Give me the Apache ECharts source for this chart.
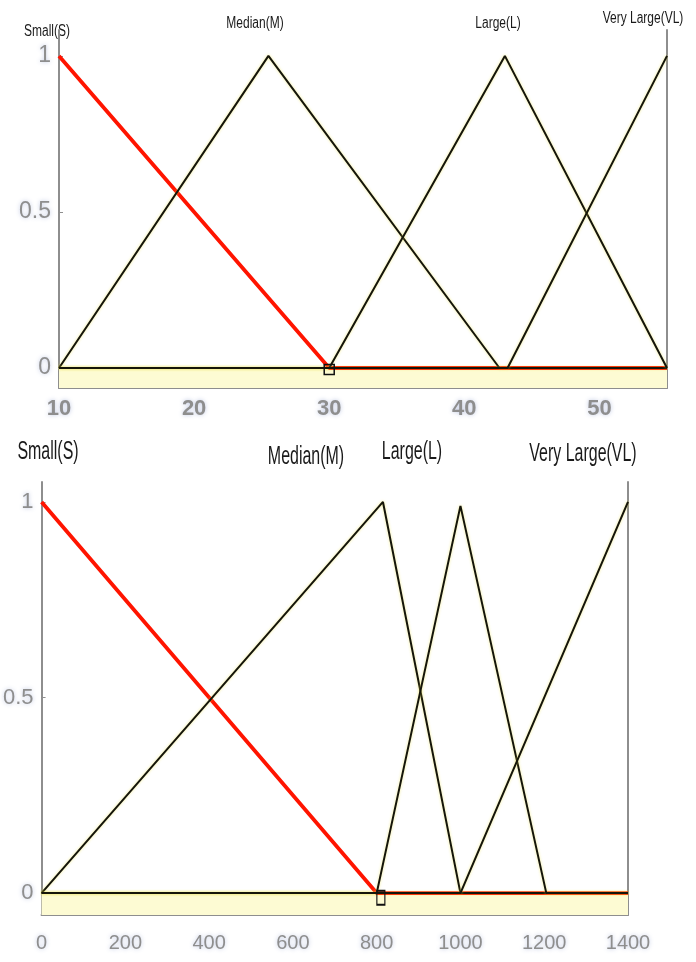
<!DOCTYPE html>
<html>
<head>
<meta charset="utf-8">
<script src="https://cdn.jsdelivr.net/npm/echarts@6/dist/echarts.min.js"></script>
<style>
  html, body { margin: 0; padding: 0; background: #fff; }
  #chart { width: 696px; height: 962px; }
</style>
</head>
<body>
<div id="chart"></div>
<script>
// upper panel, universe 10..55
const upperTicks = [10, 20, 30, 40, 50];
const upperSmallX = [10, 30, 55];
const upperSmallY = [1, 0, 0];
const upperMedianX = [10, 25.5, 42.6, 55];
const upperMedianY = [0, 1, 0, 0];
const upperLargeX = [10, 30, 43, 55];
const upperLargeY = [0, 0, 1, 0];
const upperVeryLargeX = [10, 43.2, 55];
const upperVeryLargeY = [0, 0, 1];

// lower panel, universe 0..1400
const lowerTicks = [0, 200, 400, 600, 800, 1000, 1200, 1400];
const lowerSmallX = [0, 800, 1400];
const lowerSmallY = [1, 0, 0];
const lowerMedianX = [0, 815, 1000, 1400];
const lowerMedianY = [0, 1, 0, 0];
const lowerLargeX = [0, 800, 1000, 1205, 1400];
const lowerLargeY = [0, 0, 0.99, 0, 0];
const lowerVeryLargeX = [0, 1000, 1400];
const lowerVeryLargeY = [0, 0, 1];

const membershipTicks = [0, 0.5, 1];
const mfNames = ["Small(S)", "Median(M)", "Large(L)", "Very Large(VL)"];

function pairs(xs, ys) {
  return xs.map((x, i) => [x, ys[i]]);
}

const chart = echarts.init(document.getElementById("chart"));

const grey = "#8e8e8e";
const sans = '"Liberation Sans", sans-serif';
const blackLine = {
  color: "#15150a",
  width: 2,
  shadowColor: "rgba(235,225,70,0.6)",
  shadowBlur: 3,
};
const redLine = { color: "#ff1400", width: 3.8 };
const markerStyle = {
  color: "rgba(255,255,255,0)",
  borderColor: "#111",
  borderWidth: 1.5,
};
const labelGlow = {
  textShadowColor: "rgba(110,130,190,0.45)",
  textShadowBlur: 4,
};

function yAxisFor(gridIndex, min, max, labelSize) {
  return [
    {
      type: "value",
      gridIndex: gridIndex,
      min: min,
      max: max,
      splitLine: { show: false },
      axisLine: { show: true, lineStyle: { color: grey, width: 2 } },
      axisTick: {
        show: true,
        inside: true,
        length: 4,
        customValues: membershipTicks,
        lineStyle: { color: grey },
      },
      axisLabel: Object.assign({
        customValues: membershipTicks,
        margin: 8,
        color: grey,
        fontFamily: sans,
        fontSize: labelSize,
      }, labelGlow),
    },
    {
      type: "value",
      gridIndex: gridIndex,
      position: "right",
      min: min,
      max: max,
      splitLine: { show: false },
      axisLine: { show: true, lineStyle: { color: grey, width: 2 } },
      axisTick: { show: false },
      axisLabel: { show: false },
    },
  ];
}

function xAxisFor(gridIndex, min, max, ticks, labelSize, margin, weight) {
  return {
    type: "value",
    gridIndex: gridIndex,
    min: min,
    max: max,
    splitLine: { show: false },
    axisLine: { onZero: false, lineStyle: { color: grey, width: 2 } },
    axisTick: {
      inside: true,
      length: 9,
      customValues: ticks,
      lineStyle: { color: grey },
    },
    axisLabel: Object.assign({
      customValues: ticks,
      formatter: v => String(v),
      margin: margin,
      color: grey,
      fontFamily: sans,
      fontSize: labelSize,
      fontWeight: weight,
    }, labelGlow),
  };
}

function stripArea(min) {
  return {
    silent: true,
    itemStyle: { color: "#fdfbd3" },
    data: [[{ yAxis: min }, { yAxis: 0 }]],
  };
}

// names drawn narrow and tall, like the condensed face of the original
function mfLabel(text, x, y, size, scaleX, scaleY) {
  return {
    type: "text",
    x: x,
    y: y,
    scaleX: scaleX,
    scaleY: scaleY,
    style: {
      text: text,
      fill: "#1a1a1a",
      font: size + "px " + sans,
      align: "center",
      verticalAlign: "middle",
    },
  };
}

const upperMin = -0.064, upperMax = 1.083;
const lowerMin = -0.056, lowerMax = 1.051;

const option = {
  animation: false,
  backgroundColor: "#fff",
  grid: [
    { left: 59, right: 29, top: 30, height: 358 },
    { left: 39, right: 68, top: 482, height: 433 },
  ],
  xAxis: [
    xAxisFor(0, 10, 55, upperTicks, 22, 10, "bold"),
    xAxisFor(1, 0, 1400, lowerTicks, 20, 18, "normal"),
  ],
  yAxis: yAxisFor(0, upperMin, upperMax, 23)
    .concat(yAxisFor(1, lowerMin, lowerMax, 22)),
  series: [
    // upper panel
    {
      name: mfNames[0], type: "line", xAxisIndex: 0, yAxisIndex: 0,
      symbol: "none", lineStyle: redLine,
      data: pairs(upperSmallX, upperSmallY),
      markArea: stripArea(upperMin),
      markPoint: {
        symbol: "rect", symbolSize: [10, 10], itemStyle: markerStyle,
        label: { show: false },
        data: [{ coord: [upperSmallX[1], -0.005] }],
      },
    },
    {
      name: mfNames[1], type: "line", xAxisIndex: 0, yAxisIndex: 0,
      symbol: "none", lineStyle: blackLine,
      data: pairs(upperMedianX, upperMedianY),
    },
    {
      name: mfNames[2], type: "line", xAxisIndex: 0, yAxisIndex: 0,
      symbol: "none", lineStyle: blackLine,
      data: pairs(upperLargeX, upperLargeY),
    },
    {
      name: mfNames[3], type: "line", xAxisIndex: 0, yAxisIndex: 0,
      symbol: "none", lineStyle: blackLine,
      data: pairs(upperVeryLargeX, upperVeryLargeY),
    },
    // lower panel
    {
      name: mfNames[0], type: "line", xAxisIndex: 1, yAxisIndex: 2,
      symbol: "none", lineStyle: redLine,
      data: pairs(lowerSmallX, lowerSmallY),
      markArea: stripArea(lowerMin),
      markPoint: {
        symbol: "rect", symbolSize: [8, 14], itemStyle: markerStyle,
        label: { show: false },
        data: [{ coord: [810, -0.012] }],
      },
    },
    {
      name: mfNames[1], type: "line", xAxisIndex: 1, yAxisIndex: 2,
      symbol: "none", lineStyle: blackLine,
      data: pairs(lowerMedianX, lowerMedianY),
    },
    {
      name: mfNames[2], type: "line", xAxisIndex: 1, yAxisIndex: 2,
      symbol: "none", lineStyle: blackLine,
      data: pairs(lowerLargeX, lowerLargeY),
    },
    {
      name: mfNames[3], type: "line", xAxisIndex: 1, yAxisIndex: 2,
      symbol: "none", lineStyle: blackLine,
      data: pairs(lowerVeryLargeX, lowerVeryLargeY),
    },
  ],
  graphic: [
    // names over the upper panel
    mfLabel(mfNames[0], 47, 31, 15, 0.8, 1.15),
    mfLabel(mfNames[1], 255, 23, 15, 0.8, 1.15),
    mfLabel(mfNames[2], 498, 23, 15, 0.8, 1.15),
    mfLabel(mfNames[3], 643, 18, 15, 0.8, 1.15),
    // names over the lower panel
    mfLabel(mfNames[0], 48, 452, 21, 0.76, 1.25),
    mfLabel(mfNames[1], 306, 457, 21, 0.76, 1.25),
    mfLabel(mfNames[2], 412, 452, 21, 0.76, 1.25),
    mfLabel(mfNames[3], 583, 454, 21, 0.76, 1.25),
  ],
};

chart.setOption(option);
</script>
</body>
</html>
